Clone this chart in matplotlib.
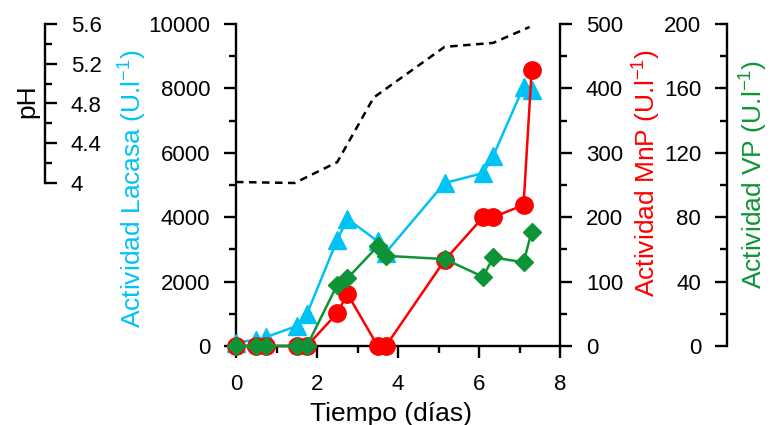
import numpy as np
import matplotlib
matplotlib.use('Agg')
import matplotlib.pyplot as plt
from matplotlib.ticker import MultipleLocator, FormatStrFormatter

plt.rcParams['font.family'] = ['Liberation Sans', 'DejaVu Sans']
plt.rcParams['mathtext.default'] = 'regular'

# Datos (tiempo en días)
dias = [0, 0.5, 0.75, 1.5, 1.75, 2.5, 2.75, 3.5, 3.7, 5.15, 6.1, 6.35, 7.1, 7.3]
lacasa = [100, 200, 280, 620, 990, 3300, 3950, 3250, 2900, 5060, 5370, 5900, 8050, 7950]
mnp = [0, 0, 0, 0, 0, 51, 81, 0, 0, 133, 200, 200, 219, 428]
vp = [0, 0, 0, 0, 0, 38, 42, 62, 56, 54, 43, 55, 52, 71]

dias_ph = [0, 1.45, 2.5, 3.4, 5.15, 6.35, 7.25]
ph = [4.01, 4.0, 4.21, 4.86, 5.37, 5.41, 5.57]

c_lac = '#00C3F5'
c_mnp = '#FF0000'
c_vp = '#0E9436'

fs_tick = 16
fs_lab = 19

fig = plt.figure(figsize=(7.7, 4.25), dpi=100)
ax = fig.add_axes([236/770, 1-346/425, 324/770, 322/425])
ax_mnp = ax.twinx()
ax_vp = ax.twinx()
ax_ph = ax.twinx()

for a in (ax, ax_mnp, ax_vp, ax_ph):
    a.patch.set_visible(False)
    for s in a.spines.values():
        s.set_visible(False)
        s.set_linewidth(1.7)
    a.tick_params(which='major', length=8.6, width=1.7, labelsize=fs_tick, pad=10)
    a.tick_params(which='minor', length=5, width=1.7)

# Lacasa (eje izquierdo principal)
ax.plot(dias, lacasa, color=c_lac, lw=1.8, marker='^', ms=12.5, mec=c_lac, clip_on=False, zorder=3)
ax.set_xlim(0, 8)
ax.set_ylim(0, 10000)
ax.spines['left'].set_visible(True)
ax.spines['bottom'].set_visible(True)
ax.xaxis.set_major_locator(MultipleLocator(2))
ax.xaxis.set_minor_locator(MultipleLocator(1))
ax.yaxis.set_major_locator(MultipleLocator(2000))
ax.yaxis.set_minor_locator(MultipleLocator(1000))
ax.tick_params(axis='x', which='major', pad=11.5)
ax.tick_params(axis='y', which='both', left=True, right=False)

# MnP (eje derecho)
ax_mnp.plot(dias, mnp, color=c_mnp, lw=1.8, marker='o', ms=12.5, mec=c_mnp, clip_on=False, zorder=3)
ax_mnp.set_ylim(0, 500)
ax_mnp.spines['right'].set_visible(True)
ax_mnp.yaxis.set_major_locator(MultipleLocator(100))
ax_mnp.yaxis.set_minor_locator(MultipleLocator(50))

# VP (eje derecho exterior, marcas hacia la izquierda)
ax_vp.plot(dias, vp, color=c_vp, lw=1.8, marker='D', ms=9.2, mec=c_vp, clip_on=False, zorder=3)
ax_vp.set_ylim(0, 200)
ax_vp.yaxis.tick_left()
ax_vp.spines['left'].set_visible(True)
ax_vp.spines['left'].set_position(('axes', (727-236)/324))
ax_vp.yaxis.set_major_locator(MultipleLocator(40))
ax_vp.yaxis.set_minor_locator(MultipleLocator(20))

# pH (eje izquierdo exterior, solo parte superior)
ax_ph.plot(dias_ph, ph, color='black', lw=1.8, ls=(0, (3, 2.2)), zorder=2)
ax_ph.set_ylim(4 - (346-183)*1.6/159, 5.6)
ax_ph.spines['right'].set_visible(True)
ax_ph.spines['right'].set_position(('axes', (45-236)/324))
ax_ph.spines['right'].set_bounds(4, 5.6)
ax_ph.set_yticks([4, 4.4, 4.8, 5.2, 5.6])
ax_ph.set_yticks([4.2, 4.6, 5.0, 5.4], minor=True)
ax_ph.yaxis.set_major_formatter(FormatStrFormatter('%g'))

# Títulos de ejes
fig.text(391/770, 1-421/425, 'Tiempo (días)', fontsize=fs_lab, ha='center', va='baseline')
fig.text(27/770, 1-101/425, 'pH', fontsize=fs_lab, rotation=90, ha='center', va='center')
fig.text(133/770, 1-189/425, 'Actividad Lacasa (U.l$^{-1}$)', fontsize=fs_lab, color=c_lac,
         rotation=90, ha='center', va='center')
fig.text(647/770, 1-173/425, 'Actividad MnP (U.l$^{-1}$)', fontsize=fs_lab, color=c_mnp,
         rotation=90, ha='center', va='center')
fig.text(754/770, 1-174/425, 'Actividad VP (U.l$^{-1}$)', fontsize=fs_lab, color=c_vp,
         rotation=90, ha='center', va='center')

fig.savefig('out.png', dpi=100)
